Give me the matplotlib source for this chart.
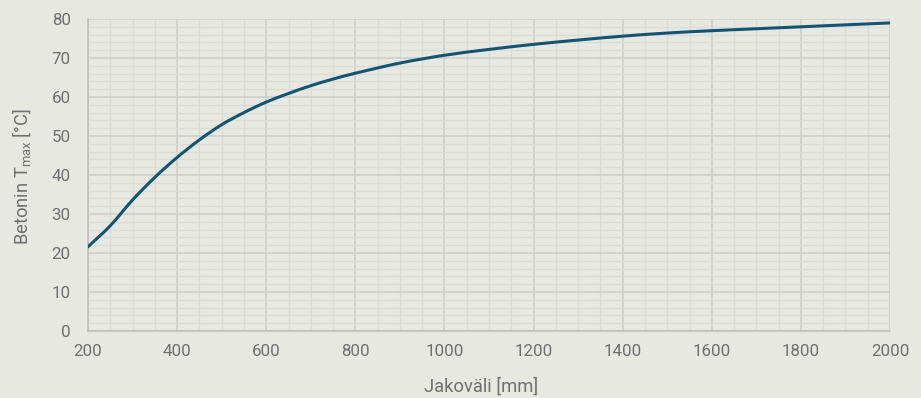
import matplotlib
matplotlib.use("Agg")
import numpy as np
import matplotlib.pyplot as plt
from matplotlib.ticker import MultipleLocator
from matplotlib.path import Path
from matplotlib.patches import PathPatch

plt.rcParams['font.family'] = ['Roboto', 'DejaVu Sans']
plt.rcParams['mathtext.default'] = 'regular'

spacing = [200, 250, 300, 350, 400, 450, 500, 550, 600, 650, 700, 750, 800,
           900, 1000, 1100, 1200, 1300, 1400, 1500, 1600, 1700, 1800, 1900, 2000]
t_max = [21.6, 27.0, 33.6, 39.4, 44.5, 49.0, 52.9, 56.0, 58.7, 60.9, 62.9, 64.6, 66.1,
         68.7, 70.7, 72.2, 73.5, 74.6, 75.6, 76.4, 77.0, 77.5, 78.0, 78.5, 79.0]

xlabel = "Jakoväli [mm]"
ylabel = "Betonin T$_{max}$ [°C]"

bg = "#E8E8E3"
text_c = "#6F6F6F"
line_c = "#135472"

fig = plt.figure(figsize=(9.21, 3.98), dpi=100, facecolor=bg)
ax = fig.add_axes([88/921, 1-331/398, (890-88)/921, (331-19)/398], facecolor=bg)

# smoothed line through the data points (cubic Bezier segments)
x = np.asarray(spacing, float)
y = np.asarray(t_max, float)
verts = [(x[0], y[0])]
codes = [Path.MOVETO]
n = len(x)
for i in range(n - 1):
    p0 = (x[max(i-1, 0)], y[max(i-1, 0)])
    p1 = (x[i], y[i])
    p2 = (x[i+1], y[i+1])
    p3 = (x[min(i+2, n-1)], y[min(i+2, n-1)])
    h = p2[0]-p1[0]
    m1 = ((p2[1]-p0[1]) / (p2[0]-p0[0])) if i > 0 else (p2[1]-p1[1]) / h
    m2 = ((p3[1]-p1[1]) / (p3[0]-p1[0])) if i+2 < n else (p2[1]-p1[1]) / h
    c1 = (p1[0] + h/3, p1[1] + m1*h/3)
    c2 = (p2[0] - h/3, p2[1] - m2*h/3)
    verts += [c1, c2, p2]
    codes += [Path.CURVE4]*3
ax.add_patch(PathPatch(Path(verts, codes), facecolor='none', edgecolor=line_c,
                       lw=2.2, capstyle='round', zorder=3))

ax.set_xlim(200, 2000)
ax.set_ylim(0, 80)
ax.xaxis.set_major_locator(MultipleLocator(200))
ax.xaxis.set_minor_locator(MultipleLocator(50))
ax.yaxis.set_major_locator(MultipleLocator(10))
ax.yaxis.set_minor_locator(MultipleLocator(2))
ax.grid(which='major', color="#CCCCC8", lw=1.1)
ax.grid(which='minor', color="#DCDCD7", lw=0.9)
ax.set_axisbelow(True)

for s in ['top', 'right']:
    ax.spines[s].set_visible(False)
for s in ['left', 'bottom']:
    ax.spines[s].set_color("#BDBDB9")
    ax.spines[s].set_linewidth(1.1)

ax.tick_params(which='both', length=0, colors=text_c, labelsize=12.2)
ax.tick_params(axis='x', pad=9)
ax.tick_params(axis='y', pad=12.5)

fig.text(481/921, 1-387/398, xlabel, color=text_c, fontsize=13.2,
         ha='center', va='center')
fig.text(21.5/921, 1-176.5/398, ylabel, color=text_c, fontsize=13.2,
         ha='center', va='center', rotation=90)

fig.savefig("out.png", dpi=100, facecolor=bg)
